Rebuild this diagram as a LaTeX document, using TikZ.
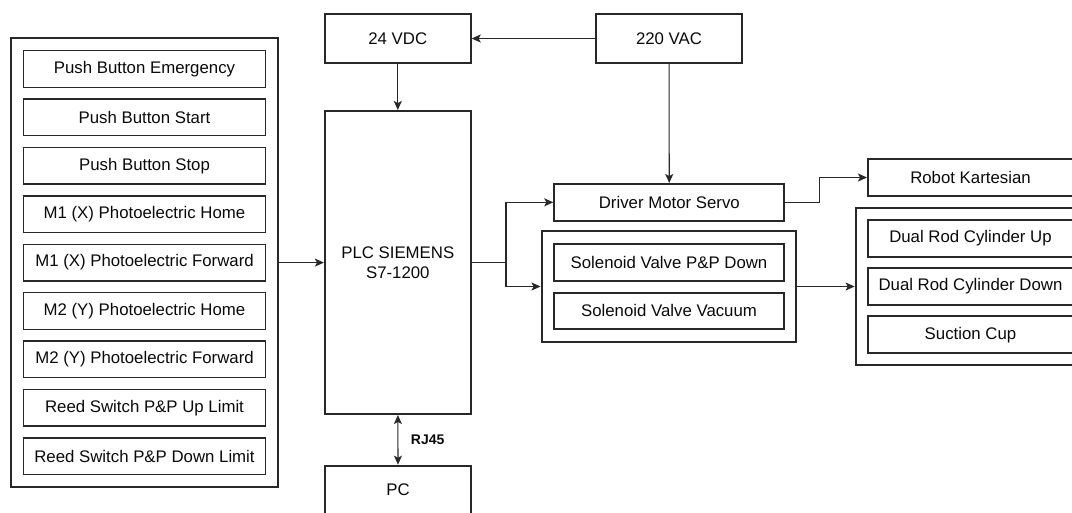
\documentclass[tikz,border=0pt]{standalone}
\usepackage{fontspec}
\setmainfont{Liberation Sans}
\usepackage{xcolor}
\usepackage{tikz}
\usetikzlibrary{arrows.meta, positioning, calc, fit}
\definecolor{linegray}{RGB}{40,40,40}
\definecolor{textblack}{RGB}{10,10,10}
\tikzset{
  inbox/.style={rectangle, minimum width=181.8pt, minimum height=27.45pt, inner sep=0pt, draw=linegray, line width=0.95pt, text=textblack, font=\fontsize{12.6}{15}\selectfont},
  block/.style={rectangle, minimum width=109.3pt, minimum height=36.3pt, inner sep=0pt, align=center, draw=linegray, line width=1.5pt, text=textblack, font=\fontsize{12.6}{15}\selectfont},
  outbox/.style={rectangle, minimum width=172.5pt, minimum height=27.45pt, inner sep=0pt, draw=linegray, line width=1.5pt, text=textblack, font=\fontsize{12.6}{15}\selectfont},
  group/.style={rectangle, draw=linegray, line width=1.5pt, inner sep=8.7pt},
  arrow/.style={-{Stealth[length=6.8pt, width=6pt, inset=1.6pt]}, line width=0.8pt, draw=linegray},
  biarrow/.style={{Stealth[length=6.8pt, width=6pt, inset=1.6pt]}-{Stealth[length=6.8pt, width=6pt, inset=1.6pt]}, line width=0.8pt, draw=linegray},
}

\begin{document}
\begin{tikzpicture}[x=0.75pt, y=-0.75pt]
\useasboundingbox (0,0) rectangle (1072,512);
\clip (0,0) rectangle (1072,512);
% inputs
\node (pbemg) [inbox] at (144.5,69) {Push Button Emergency};
\node (pbstart) [inbox, below=7.9pt of pbemg] {Push Button Start};
\node (pbstop) [inbox, below=7.9pt of pbstart] {Push Button Stop};
\node (mxhome) [inbox, below=7.9pt of pbstop] {M1 (X) Photoelectric Home};
\node (mxfwd) [inbox, below=7.9pt of mxhome] {M1 (X) Photoelectric Forward};
\node (myhome) [inbox, below=7.9pt of mxfwd] {M2 (Y) Photoelectric Home};
\node (myfwd) [inbox, below=7.9pt of myhome] {M2 (Y) Photoelectric Forward};
\node (rsup) [inbox, below=7.9pt of myfwd] {Reed Switch P\&P Up Limit};
\node (rsdown) [inbox, below=7.9pt of rsup] {Reed Switch P\&P Down Limit};
\node (inputs) [group, fit=(pbemg)(rsdown)] {};
% power and controller
\node (vdc) [block] at (397.8,38.5) {24 VDC};
\node (vac) [block] at (669,38.5) {220 VAC};
\node (plc) [block, minimum height=227.25pt] at (397.8,262.5) {PLC SIEMENS\\S7-1200};
\node (pc) [block, minimum height=36.45pt] at (398,490) {PC};
% outputs
\node (drv) [outbox] at (669.3,202.3) {Driver Motor Servo};
\node (svdown) [outbox] at (669,262.2) {Solenoid Valve P\&P Down};
\node (svvac) [outbox, below=7.5pt of svdown] {Solenoid Valve Vacuum};
\node (solbox) [group, inner sep=8.6pt, fit=(svdown)(svvac)] {};
\node (robot) [outbox, minimum width=153.75pt, minimum height=27.75pt] at (970.5,177.5) {Robot Kartesian};
\node (cylup) [outbox, minimum width=153.75pt] at (970.5,238.3) {Dual Rod Cylinder Up};
\node (cyldown) [outbox, minimum width=153.75pt, below=7.2pt of cylup] {Dual Rod Cylinder Down};
\node (cup) [outbox, minimum width=153.75pt, below=7.2pt of cyldown] {Suction Cup};
\node (cylbox) [group, inner sep=8.5pt, fit=(cylup)(cup)] {};
\coordinate (split) at (506,262.5);
\coordinate (rbend) at (819.3,202.3);
% connections
\draw[arrow] (vac) -- (vdc);
\draw[arrow] (vdc) -- (plc);
\draw[arrow] (vac) -- (drv);
\draw[arrow] (inputs.east) -- (inputs.east -| plc.west);
\draw[arrow] (plc.east) -- (split) |- (drv.west);
\draw[arrow] (split) |- (solbox.west);
\draw[arrow] (drv.east) -- (rbend) |- (robot.west);
\draw[arrow] (solbox.east) -- (solbox.east -| cylbox.west);
\draw[biarrow] (plc) -- node[right=6pt, font=\fontsize{10.5}{12}\bfseries\selectfont, text=textblack] {RJ45} (pc);
\end{tikzpicture}
\end{document}
